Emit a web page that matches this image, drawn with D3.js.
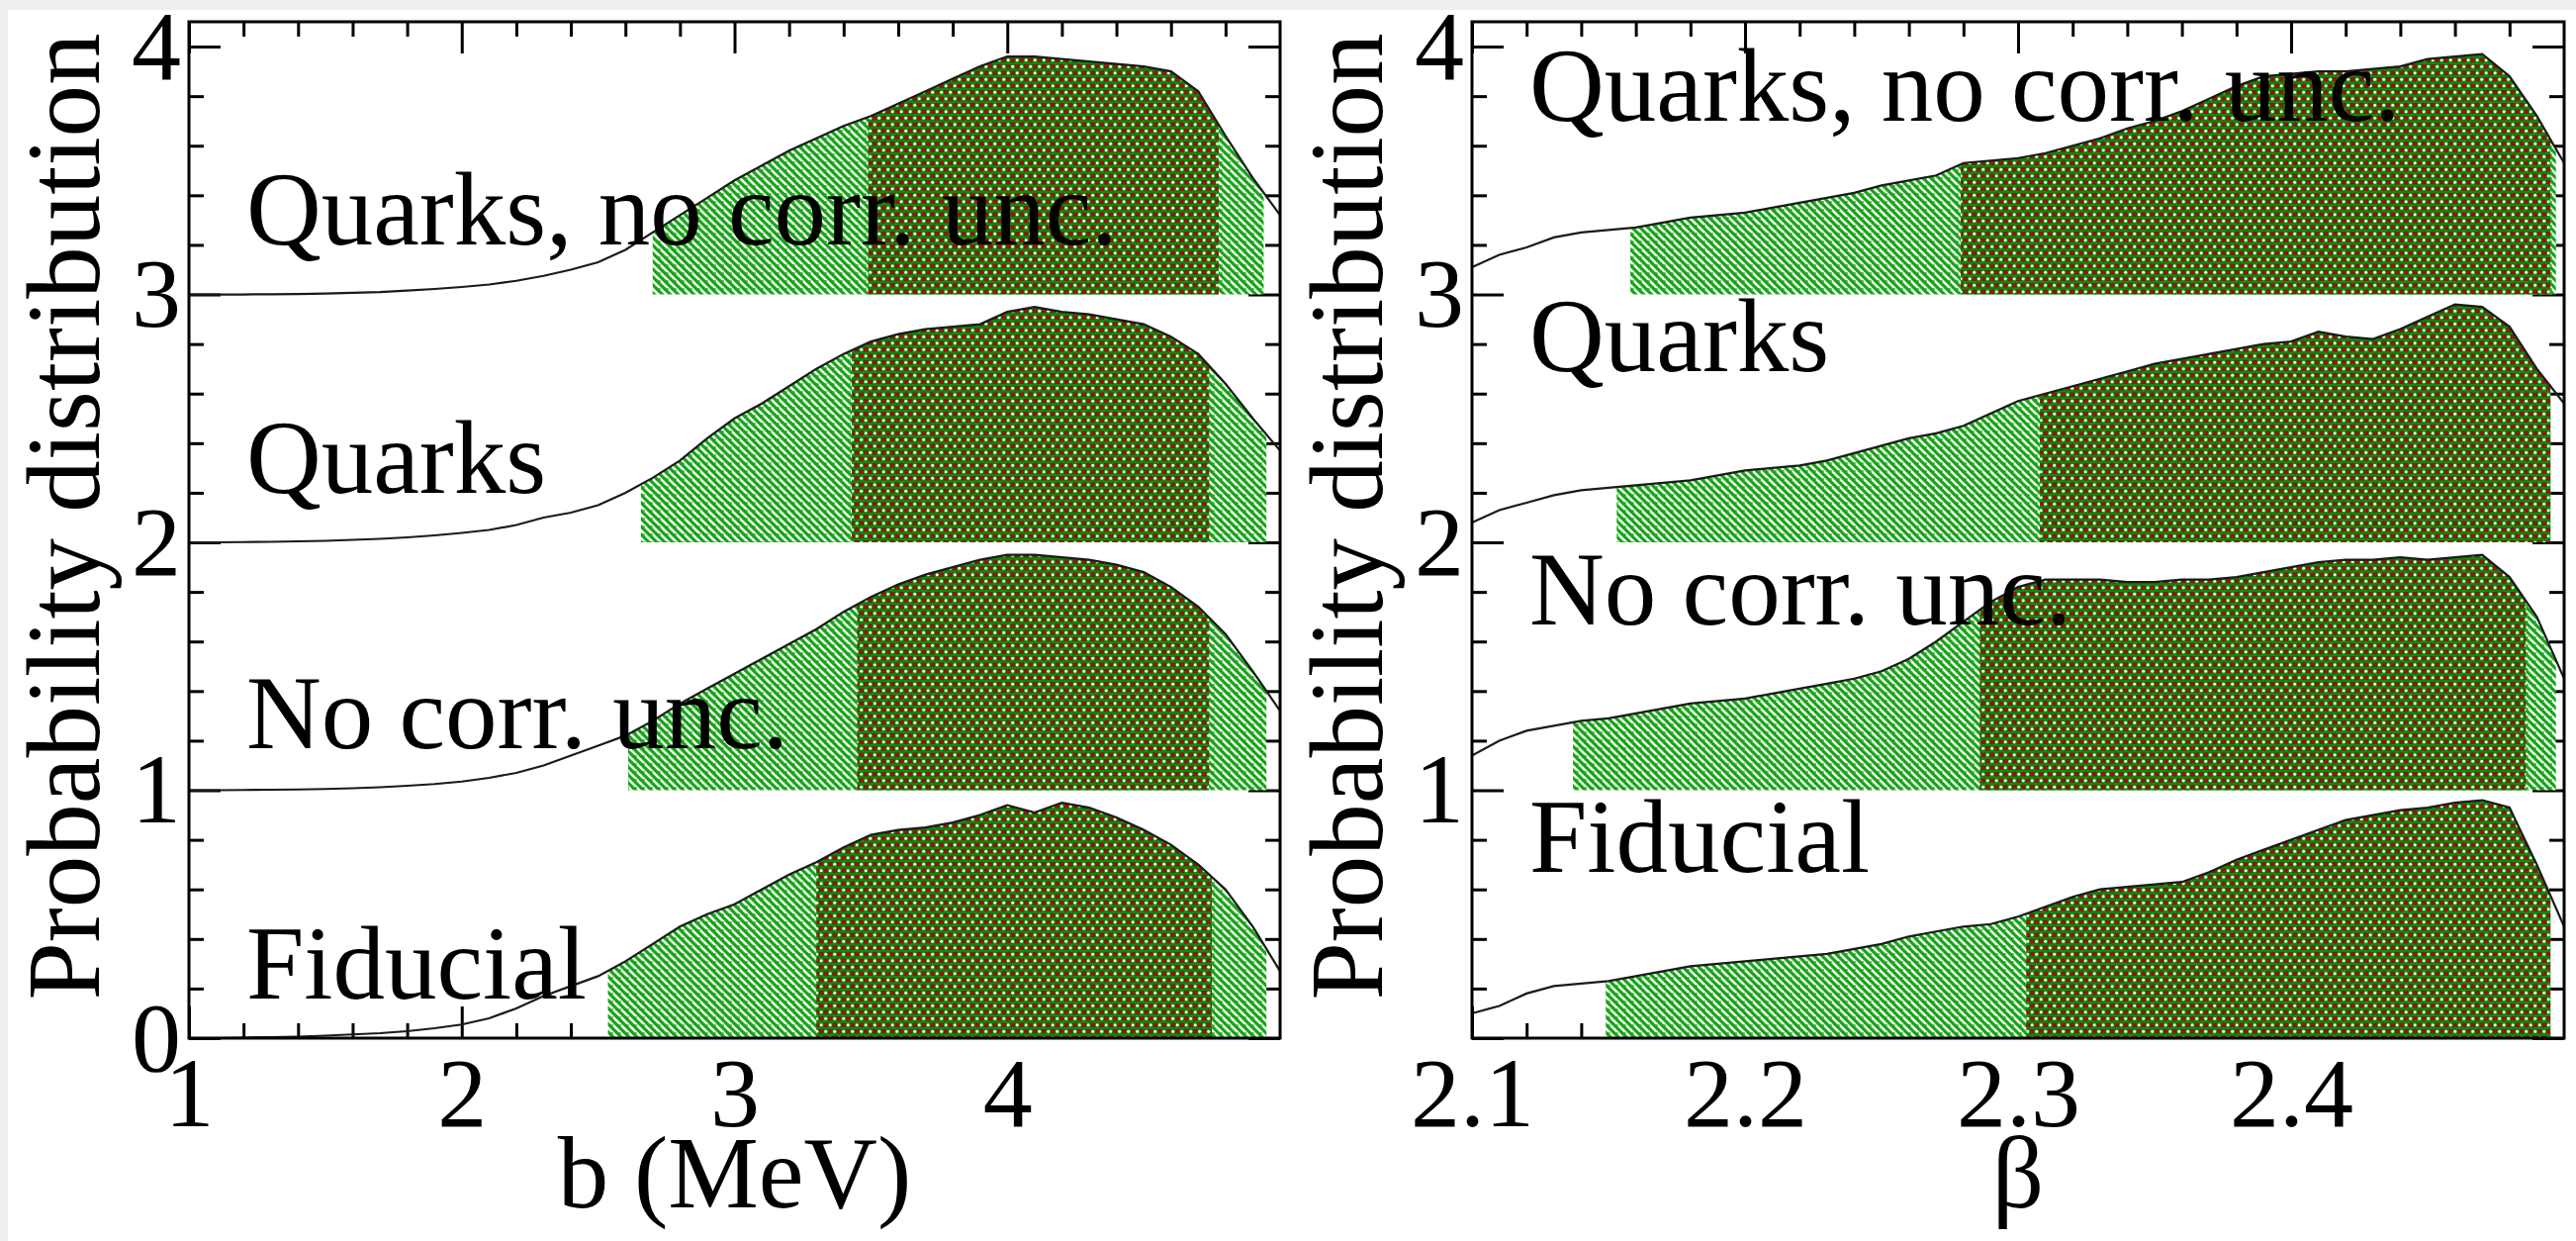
<!DOCTYPE html>
<html>
<head>
<meta charset="utf-8">
<script src="https://cdn.jsdelivr.net/npm/d3@7"></script>
<style>
  html, body { margin: 0; padding: 0; background: #efefef; }
  svg { display: block; }
  text { font-family: "Liberation Serif", "Times New Roman", serif; fill: #000; }
</style>
</head>
<body>
<div id="chart"></div>
<script>
// ---- data ----
var seriesNames = ["Fiducial", "No corr. unc.", "Quarks", "Quarks, no corr. unc."]
var seriesOffsets = [0, 1, 2, 3]

// left panel: b (MeV)
var bX = [1.0,1.1,1.2,1.3,1.4,1.5,1.6,1.7,1.8,1.9,2.0,2.1,2.2,2.3,2.4,2.5,2.6,2.7,2.8,2.9,
          3.0,3.1,3.2,3.3,3.4,3.5,3.6,3.7,3.8,3.9,4.0,4.1,4.2,4.3,4.4,4.5,4.6,4.7,4.8,4.9,5.0]
var bFiducial = [0,0,0.002,0.004,0.006,0.01,0.015,0.02,0.028,0.04,0.055,0.08,0.12,0.17,0.21,0.25,0.31,0.38,0.45,0.5,
                 0.54,0.6,0.66,0.71,0.77,0.82,0.84,0.85,0.87,0.9,0.94,0.91,0.95,0.93,0.89,0.84,0.78,0.7,0.6,0.45,0.27]
var bNoCorr = [0,0,0.001,0.002,0.003,0.005,0.008,0.012,0.018,0.025,0.035,0.05,0.07,0.1,0.14,0.18,0.22,0.28,0.35,0.41,
               0.47,0.53,0.59,0.65,0.72,0.78,0.83,0.87,0.9,0.93,0.95,0.95,0.94,0.93,0.91,0.88,0.82,0.74,0.63,0.48,0.32]
var bQuarks = [0,0,0.001,0.002,0.004,0.006,0.01,0.014,0.02,0.028,0.038,0.05,0.07,0.1,0.12,0.15,0.2,0.26,0.33,0.42,
               0.5,0.56,0.63,0.7,0.76,0.81,0.84,0.86,0.87,0.88,0.93,0.95,0.93,0.92,0.9,0.88,0.83,0.76,0.64,0.5,0.37]
var bQuarksNoCorr = [0,0,0,0.001,0.002,0.004,0.007,0.01,0.016,0.022,0.03,0.04,0.055,0.075,0.1,0.13,0.18,0.25,0.32,0.39,
                     0.46,0.52,0.58,0.63,0.68,0.72,0.77,0.82,0.87,0.92,0.96,0.96,0.95,0.94,0.93,0.92,0.9,0.82,0.64,0.47,0.32]
var bOuter = [[2.536,4.95],[2.61,4.95],[2.657,4.95],[2.70,4.94]]
var bInner = [[3.30,4.75],[3.45,4.74],[3.43,4.74],[3.49,4.775]]

// right panel: beta
var betaX = [2.10,2.11,2.12,2.13,2.14,2.15,2.16,2.17,2.18,2.19,2.20,2.21,2.22,2.23,2.24,2.25,2.26,2.27,2.28,2.29,
             2.30,2.31,2.32,2.33,2.34,2.35,2.36,2.37,2.38,2.39,2.40,2.41,2.42,2.43,2.44,2.45,2.46,2.47,2.48,2.49,2.50]
var betaFiducial = [0.1,0.13,0.18,0.21,0.22,0.23,0.25,0.27,0.29,0.3,0.31,0.32,0.33,0.34,0.36,0.38,0.41,0.43,0.45,0.46,
                    0.49,0.53,0.57,0.6,0.61,0.62,0.63,0.67,0.72,0.76,0.8,0.84,0.88,0.9,0.92,0.93,0.95,0.96,0.93,0.7,0.45]
var betaNoCorr = [0.14,0.2,0.24,0.26,0.28,0.29,0.31,0.33,0.35,0.36,0.37,0.39,0.41,0.43,0.45,0.48,0.53,0.6,0.68,0.76,
                  0.82,0.85,0.85,0.85,0.84,0.84,0.85,0.85,0.86,0.88,0.9,0.92,0.93,0.93,0.94,0.93,0.94,0.95,0.86,0.7,0.45]
var betaQuarks = [0.08,0.13,0.16,0.19,0.21,0.22,0.23,0.24,0.25,0.27,0.29,0.3,0.31,0.33,0.36,0.39,0.42,0.44,0.47,0.52,
                  0.57,0.6,0.63,0.66,0.69,0.72,0.74,0.76,0.78,0.8,0.81,0.85,0.83,0.82,0.86,0.91,0.96,0.95,0.87,0.7,0.56]
var betaQuarksNoCorr = [0.11,0.16,0.19,0.23,0.25,0.26,0.27,0.29,0.31,0.32,0.33,0.35,0.37,0.39,0.41,0.44,0.46,0.48,0.53,0.54,
                        0.55,0.57,0.6,0.63,0.67,0.7,0.74,0.79,0.84,0.88,0.89,0.9,0.9,0.91,0.92,0.95,0.96,0.97,0.88,0.72,0.53]
var betaOuter = [[2.149,2.495],[2.137,2.497],[2.153,2.495],[2.158,2.497]]
var betaInner = [[2.303,2.495],[2.286,2.486],[2.308,2.495],[2.279,2.495]]

var bTickLabels = [1, 2, 3, 4]
var betaTickLabels = [2.1, 2.2, 2.3, 2.4]
var yTickLabels = [0, 1, 2, 3, 4]

// ---- layout ----
var width = 2604, height = 1254
var plotTop = 22, plotBottom = 1049
var fontLabel = 105, fontTitle = 103, fontTick = 100

var svg = d3.select("#chart").append("svg")
    .attr("width", width)
    .attr("height", height)

svg.append("rect")
  .attr("x", 8).attr("y", 10)
  .attr("width", width - 8).attr("height", height - 10)
  .attr("fill", "#fff")

var defs = svg.append("defs")

// light green hatch (outer interval)
var hatch = defs.append("pattern")
    .attr("id", "hatch")
    .attr("patternUnits", "userSpaceOnUse")
    .attr("width", 8).attr("height", 8)
hatch.append("rect").attr("width", 8).attr("height", 8).attr("fill", "#17a317")
hatch.append("path")
  .attr("d", "M-1,-1L9,9M-1,7L1,9M7,-1L9,1")
  .attr("stroke", "#f2fff2").attr("stroke-width", 2.6)
hatch.append("path")
  .attr("d", "M0,4H4")
  .attr("stroke", "#17a317").attr("stroke-width", 1.2)

// dark red/green dots (inner interval)
var dots = defs.append("pattern")
    .attr("id", "dots")
    .attr("patternUnits", "userSpaceOnUse")
    .attr("width", 9).attr("height", 13)
dots.append("rect").attr("width", 9).attr("height", 13).attr("fill", "#0b8a0b")
dots.append("rect").attr("x", 0).attr("y", 0).attr("width", 4.5).attr("height", 4.5).attr("fill", "#8b1a0a")
dots.append("rect").attr("x", 4.5).attr("y", 6.5).attr("width", 4.5).attr("height", 4.5).attr("fill", "#8b1a0a")
dots.append("circle").attr("cx", 6.7).attr("cy", 2.2).attr("r", 1.5).attr("fill", "#fff")
dots.append("circle").attr("cx", 2.2).attr("cy", 8.7).attr("r", 1.5).attr("fill", "#fff")

var yScale = d3.scaleLinear().domain([0, 4.1]).range([plotBottom, plotTop])

var panels = [
  {
    x: d3.scaleLinear().domain([1, 5]).range([191, 1294]),
    xs: bX,
    pdfs: [bFiducial, bNoCorr, bQuarks, bQuarksNoCorr],
    outer: bOuter, inner: bInner,
    xLabels: bTickLabels,
    xMinor: d3.range(1.2, 5, 0.2).filter(function(d) { return Math.abs(d - Math.round(d)) > 0.01 }),
    showZero: true,
    xTitle: "b (MeV)",
    labelX: 1.21, labelY: [0.16, 1.17, 2.2, 3.2],
    yTitleX: 100
  },
  {
    x: d3.scaleLinear().domain([2.1, 2.5]).range([1488, 2592]),
    xs: betaX,
    pdfs: [betaFiducial, betaNoCorr, betaQuarks, betaQuarksNoCorr],
    outer: betaOuter, inner: betaInner,
    xLabels: betaTickLabels,
    xMinor: d3.range(2.12, 2.5, 0.02).filter(function(d) { return Math.abs(d * 10 - Math.round(d * 10)) > 0.01 }),
    showZero: false,
    xTitle: "\u03b2",
    labelX: 2.121, labelY: [0.67, 1.67, 2.69, 3.7],
    yTitleX: 1397
  }
]

var yMinor = d3.range(0.2, 4.05, 0.2).filter(function(d) { return Math.abs(d - Math.round(d)) > 0.01 })

function styleAxis(g) {
  g.attr("font-size", fontTick).attr("font-family", null)
  g.select(".domain").remove()
  g.selectAll("line").attr("stroke", "#000").attr("stroke-width", 3)
}

panels.forEach(function(p) {
  var x = p.x
  var g = svg.append("g")
  var left = x.range()[0], right = x.range()[1]

  // ticks on all four sides, pointing inwards
  g.append("g").attr("transform", "translate(0," + plotBottom + ")")
    .call(d3.axisBottom(x).tickValues(p.xLabels).tickSizeInner(-32).tickSizeOuter(0).tickPadding(18)
      .tickFormat(function(d) { return String(d) }))
    .call(styleAxis)
  g.append("g").attr("transform", "translate(0," + plotBottom + ")")
    .call(d3.axisBottom(x).tickValues(p.xMinor).tickSizeInner(-15).tickSizeOuter(0).tickFormat(""))
    .call(styleAxis)
  g.append("g").attr("transform", "translate(0," + plotTop + ")")
    .call(d3.axisTop(x).tickValues(p.xLabels).tickSizeInner(-32).tickSizeOuter(0).tickFormat(""))
    .call(styleAxis)
  g.append("g").attr("transform", "translate(0," + plotTop + ")")
    .call(d3.axisTop(x).tickValues(p.xMinor).tickSizeInner(-15).tickSizeOuter(0).tickFormat(""))
    .call(styleAxis)

  g.append("g").attr("transform", "translate(" + left + ",0)")
    .call(d3.axisLeft(yScale).tickValues(yTickLabels).tickSizeInner(-32).tickSizeOuter(0).tickPadding(8)
      .tickFormat(function(d) { return (d === 0 && !p.showZero) ? "" : String(d) }))
    .call(styleAxis)
  g.append("g").attr("transform", "translate(" + left + ",0)")
    .call(d3.axisLeft(yScale).tickValues(yMinor).tickSizeInner(-15).tickSizeOuter(0).tickFormat(""))
    .call(styleAxis)
  g.append("g").attr("transform", "translate(" + right + ",0)")
    .call(d3.axisRight(yScale).tickValues(yTickLabels).tickSizeInner(-32).tickSizeOuter(0).tickFormat(""))
    .call(styleAxis)
  g.append("g").attr("transform", "translate(" + right + ",0)")
    .call(d3.axisRight(yScale).tickValues(yMinor).tickSizeInner(-15).tickSizeOuter(0).tickFormat(""))
    .call(styleAxis)

  // the curves, their credible intervals
  p.pdfs.forEach(function(pdf, k) {
    var off = seriesOffsets[k]
    var f = d3.scaleLinear().domain(p.xs).range(pdf)

    function band(lim) {
      var pts = [{x: lim[0], v: f(lim[0])}]
      p.xs.forEach(function(xx, i) {
        if (xx > lim[0] && xx < lim[1]) pts.push({x: xx, v: pdf[i]})
      })
      pts.push({x: lim[1], v: f(lim[1])})
      return pts
    }

    var area = d3.area()
        .x(function(d) { return x(d.x) })
        .y0(yScale(off))
        .y1(function(d) { return yScale(off + d.v) })

    g.append("path").datum(band(p.outer[k]))
      .attr("d", area).attr("fill", "url(#hatch)")
    g.append("path").datum(band(p.inner[k]))
      .attr("d", area).attr("fill", "url(#dots)")

    var line = d3.line()
        .x(function(d, i) { return x(p.xs[i]) })
        .y(function(d) { return yScale(off + d) })
    g.append("path").datum(pdf)
      .attr("d", line)
      .attr("fill", "none")
      .attr("stroke", "#1a1a1a")
      .attr("stroke-width", 2.2)
  })

  // frame
  g.append("rect")
    .attr("x", left).attr("y", plotTop)
    .attr("width", right - left).attr("height", plotBottom - plotTop)
    .attr("fill", "none").attr("stroke", "#000").attr("stroke-width", 3)

  // series labels
  seriesNames.forEach(function(name, k) {
    g.append("text")
      .attr("x", x(p.labelX))
      .attr("y", yScale(p.labelY[k]))
      .attr("font-size", fontLabel)
      .text(name)
  })

  // axis titles
  g.append("text")
    .attr("x", (left + right) / 2)
    .attr("y", 1220)
    .attr("text-anchor", "middle")
    .attr("font-size", fontTitle)
    .text(p.xTitle)

  g.append("text")
    .attr("transform", "translate(" + p.yTitleX + ",522) rotate(-90)")
    .attr("text-anchor", "middle")
    .attr("font-size", fontLabel)
    .text("Probability distribution")
})
</script>
</body>
</html>
